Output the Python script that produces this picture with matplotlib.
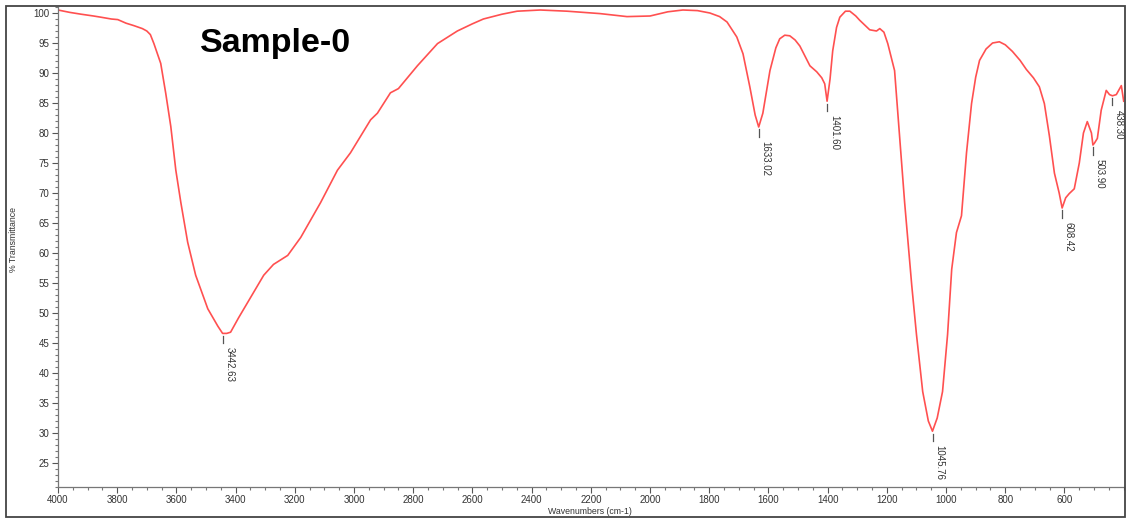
import matplotlib
matplotlib.use("Agg")
import matplotlib.pyplot as plt
from matplotlib.patches import Rectangle
from matplotlib.ticker import MultipleLocator

plt.rcParams["font.family"] = ["Liberation Sans", "DejaVu Sans"]

# FTIR spectrum, wavenumber (cm-1) vs % transmittance
wavenumber = [
    4000, 3960, 3922, 3880, 3855, 3820, 3798, 3770, 3744, 3715, 3700, 3688,
    3676, 3653, 3636, 3619, 3602, 3585, 3562, 3535, 3494, 3460, 3444, 3430,
    3417, 3390, 3359, 3330, 3305, 3272, 3224, 3180, 3113, 3056, 3012, 2944,
    2921, 2877, 2850, 2786, 2718, 2651, 2600, 2563, 2500, 2449, 2371, 2280,
    2169, 2078, 2000, 1940, 1889, 1840, 1798, 1765, 1740, 1707, 1686, 1663,
    1645, 1633, 1619, 1595, 1575, 1562, 1545, 1528, 1510, 1494, 1460, 1437,
    1420, 1410, 1402, 1392, 1383, 1370, 1359, 1340, 1325, 1305, 1292, 1258,
    1235, 1224, 1210, 1197, 1174, 1157, 1140, 1116, 1100, 1079, 1060, 1046,
    1030, 1012, 995, 981, 965, 948, 931, 914, 900, 887, 865, 843, 820, 800,
    776, 750, 729, 705, 685, 668, 651, 634, 618, 608, 596, 584, 567, 550,
    536, 523, 509, 504, 499, 489, 476, 459, 448, 438, 425, 408, 400,
]
transmittance = [
    100.5, 100.1, 99.8, 99.5, 99.3, 99.0, 98.9, 98.3, 97.9, 97.4, 97.0, 96.4,
    94.9, 91.6, 86.6, 81.1, 73.8, 68.4, 61.8, 56.3, 50.7, 47.8, 46.6, 46.6,
    46.8, 49.2, 51.8, 54.2, 56.3, 58.1, 59.6, 62.6, 68.4, 73.8, 76.7, 82.2,
    83.3, 86.7, 87.4, 91.2, 94.9, 97.0, 98.2, 99.0, 99.8, 100.3, 100.5, 100.3,
    99.9, 99.4, 99.5, 100.2, 100.5, 100.4, 100.0, 99.4, 98.5, 96.0, 93.2, 87.7,
    83.0, 81.0, 83.3, 90.4, 94.2, 95.7, 96.3, 96.2, 95.5, 94.5, 91.2, 90.2,
    89.2, 88.2, 85.3, 89.0, 93.7, 97.6, 99.3, 100.3, 100.3, 99.5, 98.8, 97.2,
    97.0, 97.4, 96.8, 94.9, 90.4, 79.5, 68.4, 54.6, 46.4, 36.9, 32.0, 30.3,
    32.5, 36.9, 46.4, 57.3, 63.4, 66.2, 76.7, 84.9, 89.3, 92.1, 94.0, 95.0,
    95.2, 94.7, 93.6, 92.1, 90.6, 89.2, 87.7, 84.9, 79.5, 73.3, 70.0, 67.5,
    69.2, 69.9, 70.7, 75.0, 80.0, 81.9, 80.0, 78.0, 78.3, 79.1, 83.8, 87.1,
    86.4, 86.2, 86.4, 87.9, 85.3,
]

peak_wavenumbers = [3442.63, 1633.02, 1401.60, 1045.76, 608.42, 503.90, 438.30]
peak_transmittance = [46.6, 81.0, 85.3, 30.3, 67.5, 78.0, 86.2]

fig = plt.figure(figsize=(11.28, 5.22), dpi=100)
ax = fig.add_axes([58 / 1128, 35 / 522, 1066 / 1128, 480 / 522])

ax.plot(wavenumber, transmittance, color="#ff5050", lw=1.2)

# peak markers: short tick under each minimum and a vertical label
for wn, t in zip(peak_wavenumbers, peak_transmittance):
    ax.plot([wn, wn], [t - 0.4, t - 1.6], color="#555555", lw=0.9)
    ax.annotate(f"{wn:.2f}", xy=(wn, t), xytext=(1.2, -10),
                textcoords="offset points", rotation=270,
                ha="left", va="top", fontsize=7, color="#333333")

ax.set_xlim(4000, 399)
ax.set_ylim(21, 101)
ax.xaxis.set_minor_locator(MultipleLocator(50))
ax.yaxis.set_minor_locator(MultipleLocator(1))
ax.set_yticks(range(25, 101, 5))
ax.set_xticks(range(4000, 599, -200))

for side in ("top", "right"):
    ax.spines[side].set_visible(False)
for side in ("left", "bottom"):
    ax.spines[side].set_color("#777777")
    ax.spines[side].set_linewidth(0.9)
ax.tick_params(which="major", length=4, width=0.8, color="#555555",
               labelsize=7, labelcolor="#333333", pad=2)
ax.tick_params(which="minor", length=2, width=0.8, color="#777777")

ax.text(0.133, 0.906, "Sample-0", transform=ax.transAxes,
        fontsize=24.5, fontweight="bold", ha="left", va="baseline")

fig.text(14 / 1128, 1 - 240 / 522, "% Transmittance", rotation=90,
         ha="center", va="center", fontsize=6.3, color="#333333")
fig.text(590 / 1128, 1 - 511 / 522, "Wavenumbers (cm-1)",
         ha="center", va="center", fontsize=6.3, color="#333333")

# outer border around the whole figure
fig.patches.append(Rectangle((6 / 1128, 5 / 522), 1119 / 1128, 511 / 522,
                             transform=fig.transFigure, fill=False,
                             edgecolor="#444444", lw=1.3))

fig.savefig("out.png", dpi=100)
